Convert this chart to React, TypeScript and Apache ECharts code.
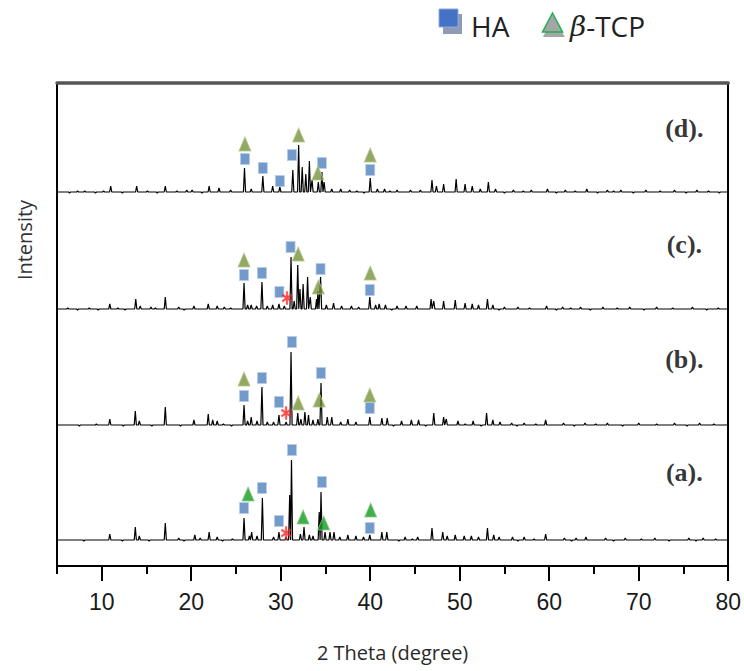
import React, { useEffect, useRef } from "react";
import * as echarts from "echarts";

// ---- axis ----
const X_MIN = 5;
const X_MAX = 80;
const Y_MAX = 483;
const majorTicks = [10, 20, 30, 40, 50, 60, 70, 80];
const minorTicks = [5, 15, 25, 35, 45, 55, 65, 75];

// ---- samples ----
const sampleNames = ["(a).", "(b).", "(c).", "(d)."];
const baselines = [26, 141, 257, 374];
const labelPositions = [
  [75.1, 94],
  [75.1, 207],
  [75.1, 322],
  [75.1, 438],
];

// [2theta, height above baseline]
const peaksA = [
  [10.9, 6], [13.75, 13], [14.2, 4], [17.1, 17], [18.6, 2], [20.4, 5], [21.0, 2], [22.0, 8], [22.9, 3],
  [25.9, 22], [26.5, 4], [26.75, 8], [27.35, 4], [27.95, 42], [29.2, 3], [29.8, 8], [30.6, 3], [31.0, 45],
  [31.2, 80], [32.2, 6], [32.6, 13], [33.2, 5], [33.6, 4], [34.3, 28], [34.5, 48], [34.95, 8], [35.5, 8],
  [35.95, 8], [36.6, 3], [37.5, 5], [38.4, 4], [39.25, 3], [39.95, 5], [41.3, 8], [41.85, 8], [43.9, 3],
  [45.3, 3], [46.9, 12], [48.1, 8], [48.6, 4], [49.5, 5], [50.5, 4], [51.3, 4], [52.1, 3], [53.1, 12],
  [53.8, 5], [54.4, 3], [55.9, 3], [57.2, 3], [59.6, 6], [61.7, 2], [63.0, 2], [64.1, 3], [66.3, 2],
  [68.5, 2], [71.8, 2], [75.6, 2], [77.2, 2],
];
const peaksB = [
  [10.9, 6], [13.75, 14], [14.2, 4], [17.1, 18], [20.3, 5], [21.9, 11], [22.4, 5], [22.9, 4], [25.9, 20],
  [26.3, 4], [26.7, 8], [27.35, 4], [27.9, 38], [28.5, 3], [29.2, 3], [29.8, 10], [30.6, 3], [31.15, 73],
  [31.9, 12], [32.25, 6], [32.7, 13], [33.1, 10], [33.6, 5], [34.15, 6], [34.5, 42], [35.2, 8], [35.7, 8],
  [36.7, 3], [37.5, 6], [38.4, 3], [39.95, 8], [41.3, 7], [41.9, 7], [43.5, 4], [44.6, 5], [45.4, 5],
  [47.1, 12], [48.2, 8], [48.5, 6], [49.8, 4], [51.5, 4], [53.0, 12], [53.7, 5], [54.5, 3], [55.8, 2],
  [57.2, 2], [59.6, 5], [61.6, 2], [64.0, 2], [66.5, 2], [70.0, 2], [74.0, 2], [76.8, 2],
];
const peaksC = [
  [10.9, 5], [13.8, 10], [14.3, 3], [15.5, 2], [17.1, 12], [18.6, 2], [20.3, 3], [21.9, 5], [22.9, 3],
  [23.7, 2], [25.9, 26], [26.3, 4], [26.7, 4], [27.3, 3], [27.9, 27], [28.5, 3], [29.1, 4], [29.8, 5],
  [30.4, 3], [31.15, 52], [31.5, 8], [31.9, 44], [32.15, 20], [32.5, 25], [33.0, 32], [33.3, 12], [34.0, 10],
  [34.15, 18], [34.45, 32], [35.1, 4], [35.9, 6], [36.8, 3], [37.9, 3], [38.7, 2], [39.95, 12], [40.6, 4],
  [41.0, 5], [41.7, 4], [43.0, 3], [44.0, 3], [45.2, 3], [46.8, 10], [47.1, 8], [48.2, 8], [49.5, 9],
  [50.6, 6], [51.4, 5], [52.1, 4], [53.1, 10], [53.7, 4], [55.0, 2], [56.5, 2], [59.7, 3], [61.5, 2],
  [63.5, 2], [66.0, 2], [69.0, 2], [72.0, 2], [76.0, 2],
];
const peaksD = [
  [8.1, 1], [11.0, 6], [13.9, 6], [17.1, 6], [19.5, 2], [20.1, 2], [22.0, 6], [23.1, 4], [24.4, 2],
  [25.95, 24], [26.7, 3], [28.0, 16], [29.1, 6], [29.9, 5], [31.35, 22], [32.0, 47], [32.4, 25], [32.8, 18],
  [33.2, 31], [33.5, 12], [34.2, 10], [34.6, 20], [34.85, 10], [35.7, 3], [36.7, 3], [37.7, 2], [40.0, 14],
  [40.8, 3], [41.6, 3], [43.0, 2], [44.5, 2], [45.6, 2], [46.9, 12], [47.4, 6], [48.2, 8], [49.6, 13],
  [50.6, 8], [51.4, 6], [52.3, 3], [53.2, 10], [54.0, 3], [56.0, 2], [58.0, 2], [59.8, 3], [61.8, 2],
  [64.2, 3], [66.5, 2], [68.0, 2], [70.8, 2], [74.0, 2], [76.5, 2],
];
// small baseline wiggles: [2theta, offset]
const wigglesA = [[8.0, -1], [12.3, -1], [15.3, -1], [19.2, -1], [23.5, -1], [24.6, 1], [43.2, -1], [44.7, 1], [56.5, -1], [58.3, 1], [62.5, -1], [67.2, -1], [70.3, 1], [73.4, -1], [76.4, -1], [78.6, 1]];
const wigglesB = [[7.5, -1], [9.4, 1], [12.4, -1], [15.6, -1], [18.8, -1], [23.6, 1], [24.5, -1], [42.6, -1], [46.2, -1], [50.6, 1], [52.4, -1], [56.4, -1], [58.5, 1], [62.8, -1], [65.2, 1], [68.2, -1], [72.0, 1], [75.4, -1], [78.4, 1]];
const wigglesC = [[6.2, 1], [7.3, -1], [8.6, 1], [9.6, -1], [11.8, 1], [12.6, -1], [16.0, 1], [19.2, -1], [24.4, 1], [42.4, -1], [54.4, -1], [57.8, 1], [60.8, -1], [62.4, 1], [64.6, -1], [67.6, 1], [70.6, -1], [73.8, 1], [77.6, -1], [78.9, 1]];
const wigglesD = [[6.4, -1], [7.3, 1], [9.3, -1], [10.2, 1], [12.3, -1], [15.1, 1], [16.2, -1], [18.4, 1], [21.2, -1], [38.5, 1], [39.3, -1], [42.2, 1], [55.0, -1], [57.1, 1], [60.8, -1], [62.9, 1], [65.4, -1], [67.2, 1], [69.4, -1], [72.4, 1], [75.3, -1], [77.8, 1], [79.0, -1]];
const samplePeaks = [peaksA, peaksB, peaksC, peaksD];
const sampleWiggles = [wigglesA, wigglesB, wigglesC, wigglesD];

// ---- phase markers ----
const haMarkers = [
  [25.9, 58], [27.9, 78], [29.8, 45], [31.25, 116], [34.6, 84], [39.95, 38],
  [25.9, 170], [27.9, 188], [29.8, 164], [31.25, 224], [34.5, 193], [39.95, 158],
  [25.9, 291], [27.9, 293], [29.85, 274], [31.1, 319], [34.45, 297], [39.95, 276],
  [26.0, 407], [28.0, 398], [29.9, 385], [31.25, 411], [34.6, 403], [40.0, 396],
];
const tcpMarkersOlive = [
  [25.9, 187], [31.95, 163], [34.3, 166], [39.95, 171],
  [25.9, 306], [31.95, 312], [34.2, 279], [40.0, 293],
  [26.0, 422], [32.0, 431], [34.15, 393], [40.0, 411],
];
const tcpMarkersGreen = [[26.35, 72], [32.5, 49], [34.8, 43], [40.05, 56]];
const starMarkers = [[30.6, 33], [30.6, 153], [30.7, 268]];

const STAR_PATH =
  "path://M8.5 0L11.5 0L11.5 20L8.5 20Z M17.91 16.3L19.41 13.7L2.09 3.7L0.59 6.3Z M2.09 16.3L0.59 13.7L17.91 3.7L19.41 6.3Z";

function buildTrace(base: number, peaks: number[][], wiggles: number[][]) {
  const all = [...peaks, ...wiggles].sort((a, b) => a[0] - b[0]);
  const pts: number[][] = [[X_MIN, base]];
  const n = all.length;
  for (let i = 0; i < n; i++) {
    const [p, h] = all[i];
    const prev = i > 0 ? all[i - 1][0] : X_MIN;
    const next = i < n - 1 ? all[i + 1][0] : X_MAX;
    const lw = Math.min(0.12, (p - prev) / 2);
    const rw = Math.min(0.12, (next - p) / 2);
    pts.push([p - lw, base], [p, base + h], [p + rw, base]);
  }
  pts.push([X_MAX, base]);
  return pts;
}

export default function App() {
  const ref = useRef<HTMLDivElement>(null);
  useEffect(() => {
    if (!ref.current) return;
    const chart = echarts.init(ref.current, null, { renderer: "svg" });
    const traceSeries = samplePeaks.map((pk, i) => ({
      type: "line",
      name: sampleNames[i],
      data: buildTrace(baselines[i], pk, sampleWiggles[i]),
      symbol: "none",
      silent: true,
      lineStyle: { color: "#000", width: 1.2 },
      z: 2,
    }));
    const option = {
      animation: false,
      backgroundColor: "#fff",
      grid: { left: 57, right: 13, top: 83, bottom: 105 },
      xAxis: [
        {
          type: "value",
          min: X_MIN,
          max: X_MAX,
          position: "bottom",
          name: "2 Theta (degree)",
          nameLocation: "middle",
          nameGap: 76,
          nameTextStyle: { fontFamily: "'Open Sans', 'Noto Sans', sans-serif", fontSize: 20, color: "#2a2a2a" },
          axisLine: { show: true, lineStyle: { color: "#000", width: 2 } },
          axisTick: { show: true, customValues: majorTicks, length: 15, lineStyle: { color: "#000", width: 2 } },
          axisLabel: {
            customValues: majorTicks,
            margin: 24,
            fontSize: 23,
            color: "#1a1a1a",
            fontFamily: "'Liberation Sans Narrow', 'Liberation Sans', Arial, sans-serif",
          },
          splitLine: { show: false },
        },
        {
          type: "value",
          min: X_MIN,
          max: X_MAX,
          position: "bottom",
          axisLine: { show: false },
          axisTick: { show: true, customValues: minorTicks, length: 8, lineStyle: { color: "#000", width: 2 } },
          axisLabel: { show: false },
          splitLine: { show: false },
        },
        {
          type: "value",
          min: X_MIN,
          max: X_MAX,
          position: "top",
          axisLine: { show: true, lineStyle: { color: "#555", width: 3.5 } },
          axisTick: { show: false },
          axisLabel: { show: false },
          splitLine: { show: false },
        },
      ],
      yAxis: [
        {
          type: "value",
          min: 0,
          max: Y_MAX,
          position: "left",
          axisLine: { show: true, lineStyle: { color: "#000", width: 2 } },
          axisTick: { show: false },
          axisLabel: { show: false },
          splitLine: { show: false },
        },
        {
          type: "value",
          min: 0,
          max: Y_MAX,
          position: "right",
          axisLine: { show: true, lineStyle: { color: "#000", width: 2 } },
          axisTick: { show: false },
          axisLabel: { show: false },
          splitLine: { show: false },
        },
      ],
      series: [
        ...traceSeries,
        {
          type: "scatter",
          name: "HA",
          data: haMarkers,
          symbol: "rect",
          symbolSize: [9, 11],
          silent: true,
          itemStyle: { color: "#4F81BD", borderColor: "#B7CCE8", borderWidth: 1 },
          z: 5,
        },
        {
          type: "scatter",
          name: "β-TCP",
          data: tcpMarkersOlive,
          symbol: "triangle",
          symbolSize: [12, 14],
          silent: true,
          itemStyle: { color: "#77933C", borderColor: "#B5C78F", borderWidth: 1 },
          z: 5,
        },
        {
          type: "scatter",
          name: "β-TCP (a)",
          data: tcpMarkersGreen,
          symbol: "triangle",
          symbolSize: [12, 14],
          silent: true,
          itemStyle: { color: "#109A1C", borderColor: "#8CCB8F", borderWidth: 1 },
          z: 5,
        },
        {
          type: "scatter",
          name: "star",
          data: starMarkers,
          symbol: STAR_PATH,
          symbolSize: [10, 13],
          silent: true,
          itemStyle: { color: "#FF1F1F", borderColor: "#FF1F1F", borderWidth: 0.4 },
          z: 6,
        },
        {
          type: "scatter",
          name: "labels",
          data: labelPositions.map((p, i) => ({ value: p, name: sampleNames[i] })),
          symbolSize: 0,
          silent: true,
          label: {
            show: true,
            position: "inside",
            formatter: (p: any) => p.name,
            fontFamily: "'Liberation Serif', 'Times New Roman', serif",
            fontWeight: "bold",
            fontSize: 26,
            color: "#000",
          },
          z: 7,
        },
      ],
      graphic: [
        {
          type: "text",
          x: 24,
          y: 240,
          rotation: Math.PI / 2,
          style: {
            text: "Intensity",
            fontFamily: "'Open Sans', 'Noto Sans', sans-serif",
            fontSize: 20,
            fill: "#333",
            align: "center",
            verticalAlign: "middle",
          },
        },
        { type: "rect", shape: { x: 443, y: 14, width: 19, height: 20 }, style: { fill: "#8E9BB5" } },
        { type: "rect", shape: { x: 439, y: 9, width: 19, height: 18 }, style: { fill: "#4472C4", stroke: "#8FAADC", lineWidth: 1 } },
        {
          type: "text",
          x: 471,
          y: 26,
          style: {
            text: "HA",
            fontFamily: "'Open Sans', 'Noto Sans', sans-serif",
            fontSize: 28,
            fill: "#222",
            verticalAlign: "middle",
          },
        },
        { type: "polygon", shape: { points: [[553, 17], [543, 37], [565, 37]] }, style: { fill: "#A6A6A6" } },
        { type: "polygon", shape: { points: [[552.5, 13], [542.5, 32], [562.5, 32]] }, style: { fill: "#A6A6A6", stroke: "#1DB050", lineWidth: 1.5 } },
        {
          type: "text",
          x: 570,
          y: 26,
          style: {
            text: "{b|β}-TCP",
            fontFamily: "'Open Sans', 'Noto Sans', sans-serif",
            fontSize: 28,
            fill: "#222",
            verticalAlign: "middle",
            rich: {
              b: {
                fontFamily: "'DejaVu Serif', 'Liberation Serif', serif",
                fontStyle: "italic",
                fontSize: 28,
                fill: "#222",
              },
            },
          },
        },
      ],
    };
    chart.setOption(option as any);
    return () => chart.dispose();
  }, []);
  return (
    <div
      ref={ref}
      style={{ position: "fixed", left: 0, top: 0, width: 744, height: 671, background: "#fff" }}
    />
  );
}
